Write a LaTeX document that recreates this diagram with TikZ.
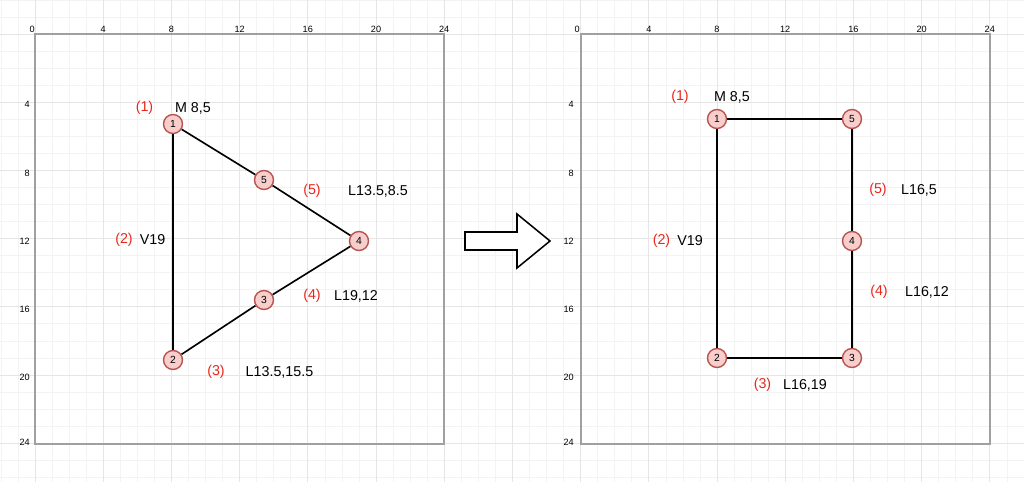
\documentclass[tikz,border=0pt]{standalone}
\usepackage{fontspec}
\setmainfont{Liberation Sans}
\definecolor{gridminor}{HTML}{F3F3F3}
\definecolor{gridmajor}{HTML}{E6E6E6}
\definecolor{framegray}{HTML}{A0A0A0}
\definecolor{ptfill}{HTML}{F8CECC}
\definecolor{ptdraw}{HTML}{B85450}
\definecolor{numred}{HTML}{E8271C}
\tikzset{
  pt/.style={circle,draw=ptdraw,fill=ptfill,line width=1.2pt,minimum size=0.57cm,inner sep=0pt,font=\fontsize{8.8}{9}\selectfont},
  seg/.style={black,line width=1.4pt},
  lbl/.style={inner sep=0pt,font=\fontsize{12.2}{14}\selectfont},
  num/.style={lbl,text=numred},
  axlbl/.style={inner sep=0pt,font=\fontsize{7.8}{9}\selectfont},
  frm/.style={framegray,line width=1.7pt},
}
\begin{document}
\begin{tikzpicture}[x=0.03cm,y=-0.03cm]
\useasboundingbox (0,0) rectangle (1024,482);
% background grid
\foreach \k in {-2,...,58}{
  \pgfmathsetmacro\xx{35+17.05*\k}
  \draw[gridminor,line width=0.6pt] (\xx,0) -- (\xx,482);
}
\foreach \k in {-2,...,27}{
  \pgfmathsetmacro\yy{34+17.05*\k}
  \draw[gridminor,line width=0.6pt] (0,\yy) -- (1024,\yy);
}
\foreach \k in {0,4,...,56}{
  \pgfmathsetmacro\xx{35+17.05*\k}
  \draw[gridmajor,line width=0.7pt] (\xx,0) -- (\xx,482);
}
\foreach \k in {0,4,...,24}{
  \pgfmathsetmacro\yy{34+17.05*\k}
  \draw[gridmajor,line width=0.7pt] (0,\yy) -- (1024,\yy);
}
% frames
\draw[frm] (35,34) rectangle (444.2,444.2);
\draw[frm] (580.6,34) rectangle (989.8,444.2);
% axis labels left panel
\node[axlbl,anchor=base east] (lx0) at (35,33) {0};
\foreach \v/\n in {4/lx4,8/lx8,12/lx12,16/lx16,20/lx20,24/lx24}{
  \pgfmathsetmacro\xx{35+17.05*\v}
  \node[axlbl,anchor=base] (\n) at (\xx,33) {\v};
}
\foreach \v/\n in {4/ly4,8/ly8,12/ly12,16/ly16,20/ly20}{
  \pgfmathsetmacro\yy{34+17.05*\v+2.5}
  \node[axlbl,anchor=east] (\n) at (30,\yy) {\v};
}
\node[axlbl,anchor=east] (ly24) at (30,442) {24};
% axis labels right panel
\node[axlbl,anchor=base east] (rx0) at (580,33) {0};
\foreach \v/\n in {4/rx4,8/rx8,12/rx12,16/rx16,20/rx20,24/rx24}{
  \pgfmathsetmacro\xx{580.6+17.05*\v}
  \node[axlbl,anchor=base] (\n) at (\xx,33) {\v};
}
\foreach \v/\n in {4/ry4,8/ry8,12/ry12,16/ry16,20/ry20}{
  \pgfmathsetmacro\yy{34+17.05*\v+2.5}
  \node[axlbl,anchor=east] (\n) at (574,\yy) {\v};
}
\node[axlbl,anchor=east] (ry24) at (574,442) {24};
% left shape
\node[pt] (L1) at (173,124) {1};
\node[pt] (L2) at (173,360) {2};
\node[pt] (L3) at (264,300) {3};
\node[pt] (L4) at (359,241) {4};
\node[pt] (L5) at (264,180) {5};
\draw[seg] (L1) -- (L2);
\draw[seg] (L2) -- (L3);
\draw[seg] (L3) -- (L4);
\draw[seg] (L4) -- (L5);
\draw[seg] (L5) -- (L1);
\node[num] (ln1) at (144.5,108) {(1)};
\node[lbl] (lt1) at (193,108) {M 8,5};
\node[num] (ln2) at (124,240) {(2)};
\node[lbl] (lt2) at (152.5,240) {V19};
\node[num] (ln3) at (216,372) {(3)};
\node[lbl] (lt3) at (279.5,372) {L13.5,15.5};
\node[num] (ln4) at (312,296) {(4)};
\node[lbl] (lt4) at (356,296) {L19,12};
\node[num] (ln5) at (312,191) {(5)};
\node[lbl] (lt5) at (378,191) {L13.5,8.5};
% block arrow
\draw[black,fill=white,line width=1.3pt,line join=miter]
  (465,232) -- (517,232) -- (517,214) -- (550,241) -- (517,268) -- (517,250) -- (465,250) -- cycle;
% right shape
\node[pt] (R1) at (717,119) {1};
\node[pt] (R2) at (717,358) {2};
\node[pt] (R3) at (852,358) {3};
\node[pt] (R4) at (852,241) {4};
\node[pt] (R5) at (852,119) {5};
\draw[seg] (R1) -- (R2);
\draw[seg] (R2) -- (R3);
\draw[seg] (R3) -- (R4);
\draw[seg] (R4) -- (R5);
\draw[seg] (R5) -- (R1);
\node[num] (rn1) at (680,97) {(1)};
\node[lbl] (rt1) at (732,97) {M 8,5};
\node[num] (rn2) at (661.5,241) {(2)};
\node[lbl] (rt2) at (690,241) {V19};
\node[num] (rn3) at (762.5,385) {(3)};
\node[lbl] (rt3) at (805,385) {L16,19};
\node[num] (rn4) at (879,292) {(4)};
\node[lbl] (rt4) at (927,292) {L16,12};
\node[num] (rn5) at (878,190) {(5)};
\node[lbl] (rt5) at (919,190) {L16,5};
\end{tikzpicture}
\end{document}
